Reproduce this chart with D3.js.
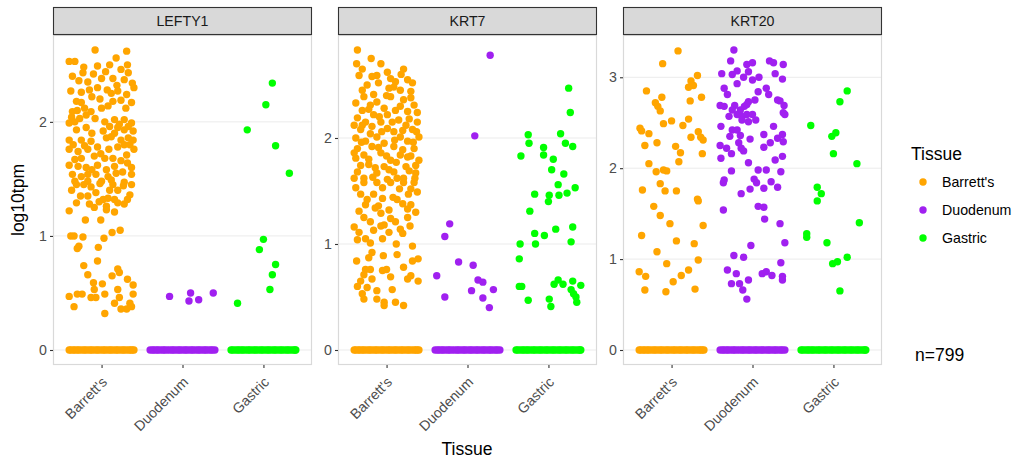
<!DOCTYPE html>
<html>
<head>
<meta charset="utf-8">
<script src="https://cdn.jsdelivr.net/npm/d3@7"></script>
<style>
  html, body { margin: 0; padding: 0; background: #ffffff; }
  svg { display: block; font-family: "Liberation Sans", Arial, sans-serif; }
</style>
</head>
<body>
<svg id="chart" width="1016" height="464"></svg>
<script>
// ---------------- data ----------------
const genes = ["LEFTY1", "KRT7", "KRT20"];
const tissues = ["Barrett's", "Duodenum", "Gastric"];
const tissueColors = ["#FFA500", "#A020F0", "#00FF00"];
const yTicksLEFTY1 = [0, 1, 2];
const yTicksKRT7 = [0, 1, 2];
const yTicksKRT20 = [0, 1, 2, 3];
const sampleCount = "n=799";

// jitter positions of the samples with log10tpm = 0 (solid band at zero)
const zeroBarretts = [-0.40,-0.38,-0.35,-0.33,-0.30,-0.28,-0.25,-0.22,-0.20,-0.17,-0.14,-0.12,-0.09,-0.06,-0.04,-0.01,0.02,0.04,0.07,0.10,0.12,0.15,0.18,0.20,0.23,0.26,0.28,0.31,0.34,0.36,0.38,0.40];
const zeroDuodenum = [-0.40,-0.37,-0.35,-0.32,-0.30,-0.27,-0.24,-0.22,-0.19,-0.16,-0.13,-0.11,-0.08,-0.05,-0.03,0.00,0.03,0.05,0.08,0.11,0.13,0.16,0.19,0.21,0.24,0.27,0.29,0.32,0.35,0.37,0.40];
const zeroGastric = [-0.40,-0.38,-0.35,-0.32,-0.30,-0.27,-0.25,-0.22,-0.19,-0.17,-0.14,-0.11,-0.09,-0.06,-0.03,-0.01,0.02,0.05,0.07,0.10,0.13,0.15,0.18,0.21,0.23,0.26,0.29,0.31,0.34,0.37,0.39,0.40];

// non-zero samples: [jitter offset (category units), log10tpm]
const lefty1Barretts = [
 [-0.08,2.63],[0.31,2.62],[-0.40,2.53],[-0.33,2.53],[0.18,2.56],[-0.22,2.48],[-0.05,2.49],[0.32,2.50],[-0.23,2.43],[0.05,2.44],
 [0.33,2.43],[-0.17,2.35],[0.00,2.38],[0.19,2.32],[0.28,2.37],[0.38,2.34],[-0.38,2.27],[-0.25,2.26],[-0.05,2.30],[0.07,2.28],
 [0.12,2.25],[0.31,2.24],[0.40,2.30],[-0.31,2.18],[-0.25,2.17],[-0.12,2.22],[0.14,2.18],[0.24,2.19],[0.37,2.17],[-0.36,2.09],
 [-0.30,2.10],[-0.21,2.12],[0.00,2.12],[-0.13,2.09],[-0.37,2.04],[-0.27,2.03],[-0.19,2.06],[0.04,2.00],[0.16,2.02],[0.28,2.02],
 [0.37,1.99],[0.10,1.96],[0.20,1.95],[-0.40,1.99],[-0.31,1.93],[-0.19,1.95],[0.02,1.92],[0.28,1.93],[0.39,1.92],[-0.40,1.84],
 [-0.25,1.84],[-0.13,1.83],[0.06,1.86],[0.12,1.87],[0.24,1.84],[0.33,1.86],[0.39,1.84],[-0.05,1.78],[0.20,1.78],[0.28,1.80],
 [-0.40,1.76],[-0.29,1.74],[-0.17,1.76],[0.40,1.76],[0.31,1.71],[-0.25,1.68],[-0.33,1.67],[-0.09,1.70],[0.04,1.68],[0.14,1.68],
 [-0.29,1.61],[-0.19,1.60],[-0.05,1.62],[0.16,1.61],[0.37,1.60],[-0.36,1.54],[-0.25,1.52],[-0.17,1.54],[-0.07,1.54],[0.08,1.52],
 [0.18,1.55],[0.37,1.54],[-0.33,1.48],[-0.17,1.48],[0.00,1.48],[0.12,1.49],[0.28,1.47],[-0.31,1.45],[-0.13,1.43],[-0.02,1.46],
 [0.14,1.45],[0.27,1.44],[0.37,1.45],[-0.17,1.35],[-0.07,1.38],[0.02,1.32],[0.08,1.33],[0.16,1.32],[0.35,1.36],[-0.31,1.29],
 [-0.15,1.28],[-0.09,1.25],[0.06,1.26],[0.20,1.29],[0.28,1.28],[-0.40,1.22],[0.06,1.23],[0.16,1.21],[-0.20,1.14],[-0.01,1.14],
 [-0.38,1.00],[-0.34,1.00],[-0.23,0.99],[0.13,1.03],[0.23,1.05],[0.03,0.98],[-0.28,0.91],[-0.30,0.89],[-0.04,0.90],[-0.05,0.78],
 [-0.22,0.74],[-0.17,0.66],[0.20,0.71],[0.22,0.68],[0.13,0.65],[0.32,0.62],[-0.10,0.59],[0.01,0.58],[0.39,0.57],[-0.09,0.53],
 [0.20,0.53],[-0.30,0.49],[-0.24,0.49],[-0.40,0.47],[-0.13,0.46],[-0.07,0.46],[0.04,0.49],[0.22,0.46],[0.39,0.49],[0.16,0.41],
 [0.35,0.41],[-0.34,0.38],[0.24,0.36],[0.31,0.36],[0.37,0.38],[0.04,0.32],
 [-0.36,2.40],[-0.10,2.42],[0.10,2.50],[0.24,2.46],[-0.28,2.36],[0.14,2.38],[-0.15,2.28],[0.20,2.27],[-0.02,2.20],[0.30,2.12],
 [0.08,2.14],[-0.33,2.00],[-0.08,2.03],[0.22,1.98],[0.33,1.96],[-0.12,1.90],[0.16,1.90],[0.35,1.80],[-0.35,1.80],[-0.21,1.79],
 [0.09,1.76],[-0.01,1.72],[0.24,1.66],[0.32,1.64],[-0.40,1.62],[0.06,1.58],[-0.12,1.58],[0.26,1.56],[-0.22,1.45],[0.20,1.40],
 [-0.37,1.40],[0.32,1.32],[-0.26,1.35],[0.10,1.40],[-0.03,1.30]
];
const lefty1Duodenum = [[-0.16,0.47],[0.10,0.50],[0.08,0.43],[0.20,0.44],[0.38,0.50]];
const lefty1Gastric = [
 [0.11,2.34],[0.03,2.15],[-0.20,1.93],[0.15,1.79],[0.32,1.55],[0.00,0.97],[-0.05,0.88],[0.15,0.75],[0.11,0.66],[0.08,0.53],[-0.32,0.41]
];

const krt7Barretts = [
 [-0.36,2.83],[-0.19,2.75],[-0.37,2.70],[-0.07,2.70],[-0.34,2.59],[0.01,2.62],[0.21,2.65],[-0.18,2.58],[-0.12,2.59],[-0.24,2.50],
 [0.05,2.56],[0.11,2.53],[0.26,2.55],[0.32,2.52],[0.03,2.47],[0.09,2.48],[0.17,2.45],[0.30,2.44],[-0.28,2.39],[-0.16,2.41],
 [0.05,2.39],[0.21,2.36],[-0.38,2.33],[-0.20,2.31],[-0.12,2.34],[0.34,2.31],[-0.30,2.26],[-0.03,2.28],[0.11,2.26],[0.26,2.25],
 [-0.36,2.19],[-0.16,2.22],[0.01,2.22],[-0.26,2.15],[-0.07,2.15],[0.15,2.17],[0.38,2.15],[-0.40,2.12],[-0.18,2.11],[0.24,2.12],
 [-0.32,2.08],[0.01,2.09],[0.09,2.06],[0.32,2.08],[-0.38,2.00],[-0.12,2.01],[0.17,2.01],[0.40,2.01],[-0.26,1.97],[-0.03,1.95],
 [0.26,1.97],[-0.36,1.90],[-0.18,1.92],[0.09,1.92],[0.34,1.90],[-0.28,1.84],[-0.07,1.86],[0.17,1.84],[-0.38,1.81],[0.05,1.79],
 [0.30,1.83],[0.40,1.79],[-0.22,1.75],[-0.03,1.73],[0.24,1.73],[-0.36,1.68],[-0.12,1.67],[0.09,1.68],[0.36,1.67],[-0.28,1.62],
 [0.01,1.61],[0.21,1.62],[-0.28,1.58],[-0.12,1.58],[0.05,1.58],[0.21,1.58],[0.34,1.58],[-0.32,1.47],[-0.16,1.47],[-0.05,1.43],
 [0.27,1.47],[0.38,1.49],[-0.26,1.37],[-0.10,1.36],[0.13,1.42],[0.30,1.37],[-0.34,1.31],[-0.07,1.29],[0.03,1.32],[0.26,1.33],
 [-0.20,1.21],[0.11,1.21],[0.26,1.25],[-0.40,1.16],[-0.07,1.17],[0.29,1.17],[-0.34,1.11],[-0.16,1.13],[0.03,1.11],[0.17,1.14],
 [-0.36,1.04],[-0.26,1.05],[-0.20,1.01],[-0.05,1.05],[0.12,1.00],[0.32,0.98],[-0.18,0.92],[-0.04,0.89],[0.13,0.90],[-0.37,0.84],
 [-0.22,0.87],[0.32,0.84],[0.39,0.86],[-0.26,0.76],[-0.20,0.76],[-0.05,0.75],[0.00,0.76],[0.21,0.78],[-0.28,0.71],[0.05,0.69],
 [0.30,0.70],[-0.32,0.65],[-0.18,0.67],[0.26,0.67],[0.39,0.65],[-0.36,0.60],[-0.24,0.59],[0.07,0.57],[-0.30,0.53],[-0.12,0.56],
 [-0.28,0.48],[-0.12,0.48],[-0.03,0.45],[0.11,0.45],[0.21,0.42],[-0.03,0.42],
 [-0.30,2.65],[-0.10,2.52],[0.18,2.60],[-0.30,2.45],[0.00,2.40],[0.30,2.38],[-0.22,2.27],[0.17,2.30],[0.38,2.24],[-0.09,2.20],
 [0.07,2.15],[0.28,2.18],[-0.30,2.12],[-0.06,2.06],[0.20,2.07],[-0.20,2.04],[0.37,2.06],[-0.31,1.96],[0.10,1.98],[0.33,1.96],
 [-0.10,1.91],[0.20,1.89],[-0.40,1.86],[0.00,1.83],[0.26,1.82],[-0.22,1.80],[0.12,1.77],[0.36,1.74],[-0.32,1.74],[-0.14,1.72],
 [0.03,1.70],[0.28,1.69],[-0.40,1.62],[-0.17,1.63],[0.13,1.62],[0.35,1.62],[-0.05,1.53],[0.16,1.52],[-0.38,1.53],[0.30,1.52],
 [-0.24,1.42],[0.08,1.44],[0.20,1.38],[-0.14,1.34],[0.36,1.30],[-0.28,1.25],[0.05,1.24],[-0.03,1.18],[0.20,1.10]
];
const krt7Duodenum = [
 [0.28,2.78],[0.09,2.02],[-0.22,1.19],[-0.28,1.07],[-0.11,0.83],[0.07,0.80],[-0.38,0.70],[0.13,0.66],[0.19,0.64],[0.05,0.56],
 [0.32,0.57],[-0.28,0.50],[0.19,0.49],[0.27,0.40]
];
const krt7Gastric = [
 [0.25,2.47],[0.27,2.24],[-0.25,2.03],[-0.24,1.95],[0.15,2.04],[0.21,1.95],[0.30,1.92],[-0.06,1.91],[-0.34,1.83],[-0.06,1.84],
 [0.06,1.80],[0.04,1.70],[0.19,1.66],[0.12,1.56],[0.33,1.53],[0.23,1.48],[-0.17,1.47],[0.01,1.46],[0.13,1.46],[0.00,1.40],
 [-0.23,1.31],[-0.17,1.10],[-0.05,1.08],[0.09,1.14],[0.30,1.16],[-0.16,1.00],[-0.35,1.00],[0.28,1.02],[-0.36,0.86],[-0.36,0.60],
 [-0.33,0.60],[0.07,0.62],[0.12,0.66],[0.18,0.62],[0.30,0.65],[0.40,0.61],[0.28,0.57],[0.31,0.53],[0.34,0.50],[-0.25,0.47],
 [0.01,0.48],[0.35,0.45],[0.03,0.41]
];

const krt20Barretts = [
 [0.08,3.29],[-0.11,3.15],[0.32,3.02],[0.24,2.96],[0.27,2.91],[0.21,2.89],[-0.31,2.85],[-0.12,2.78],[0.37,2.78],[0.23,2.74],
 [-0.20,2.72],[-0.17,2.68],[-0.14,2.63],[0.00,2.52],[0.21,2.54],[-0.10,2.49],[0.14,2.47],[-0.39,2.44],[-0.37,2.41],[-0.28,2.38],
 [0.33,2.40],[0.24,2.34],[0.36,2.34],[0.39,2.31],[-0.33,2.25],[-0.18,2.28],[0.05,2.24],[0.11,2.17],[0.38,2.16],[0.09,2.07],
 [-0.28,2.05],[-0.19,1.96],[-0.10,1.98],[-0.06,1.97],[-0.14,1.83],[-0.36,1.76],[-0.08,1.75],[0.06,1.75],[0.32,1.66],[-0.22,1.58],
 [0.33,1.64],[-0.14,1.48],[-0.02,1.39],[0.39,1.37],[-0.37,1.26],[0.06,1.20],[0.28,1.17],[-0.18,1.08],[-0.06,0.95],[0.33,0.99],
 [0.21,0.88],[-0.40,0.86],[-0.32,0.81],[0.12,0.82],[0.02,0.75],[0.29,0.67],[-0.33,0.66],[-0.07,0.64]
];
const krt20Duodenum = [
 [-0.23,3.30],[-0.27,3.18],[0.00,3.16],[-0.07,3.14],[0.21,3.18],[0.26,3.16],[0.38,3.14],[-0.19,3.07],[-0.05,3.06],[-0.38,3.04],
 [-0.25,3.03],[-0.11,3.00],[0.08,3.00],[0.00,2.97],[0.28,3.04],[0.37,2.98],[-0.19,2.93],[-0.35,2.88],[0.17,2.88],[0.07,2.84],
 [-0.31,2.81],[0.20,2.81],[0.03,2.75],[-0.05,2.73],[0.31,2.75],[0.34,2.74],[-0.40,2.69],[-0.35,2.68],[-0.22,2.69],[-0.07,2.70],
 [0.39,2.69],[-0.25,2.64],[-0.15,2.64],[-0.10,2.68],[0.38,2.61],[0.40,2.59],[-0.29,2.57],[-0.19,2.59],[-0.13,2.57],[-0.07,2.59],
 [0.00,2.59],[-0.13,2.53],[-0.05,2.51],[0.04,2.53],[-0.39,2.46],[0.26,2.46],[-0.25,2.42],[-0.19,2.42],[-0.28,2.35],[-0.15,2.36],
 [0.14,2.37],[0.37,2.37],[-0.03,2.32],[0.31,2.33],[0.38,2.29],[0.22,2.28],[-0.40,2.25],[-0.32,2.22],[-0.17,2.28],[-0.14,2.22],
 [-0.11,2.19],[0.14,2.23],[-0.26,2.16],[0.37,2.13],[0.28,2.09],[-0.39,2.11],[-0.05,2.06],[0.07,1.98],[0.17,1.98],[-0.26,1.97],
 [0.35,1.96],[-0.35,1.87],[-0.36,1.84],[0.02,1.88],[0.05,1.84],[0.23,1.85],[0.14,1.78],[0.31,1.79],[-0.03,1.77],[-0.14,1.72],
 [-0.36,1.54],[0.07,1.58],[0.14,1.57],[0.15,1.44],[0.34,1.39],[-0.02,1.15],[0.40,1.18],[-0.23,1.04],[-0.11,1.02],[0.35,0.96],
 [-0.31,0.88],[-0.20,0.84],[0.12,0.84],[0.17,0.86],[0.24,0.82],[0.37,0.81],[0.37,0.77],[-0.26,0.73],[-0.16,0.73],[-0.05,0.77],
 [-0.12,0.66],[-0.07,0.56]
];
const krt20Gastric = [
 [0.17,2.85],[0.08,2.73],[-0.28,2.47],[0.03,2.39],[-0.02,2.35],[0.00,2.16],[0.29,2.05],[-0.20,1.79],[-0.15,1.72],[-0.20,1.64],
 [0.32,1.40],[-0.33,1.28],[-0.33,1.24],[-0.08,1.18],[-0.01,0.95],[0.05,0.97],[0.17,1.02],[0.08,0.65]
];

const zeroJitter = [zeroBarretts, zeroDuodenum, zeroGastric];
const panelData = [
  [lefty1Barretts, lefty1Duodenum, lefty1Gastric],
  [krt7Barretts, krt7Duodenum, krt7Gastric],
  [krt20Barretts, krt20Duodenum, krt20Gastric]
];
const panelTicks = [yTicksLEFTY1, yTicksKRT7, yTicksKRT20];

// ---------------- layout ----------------
const svg = d3.select("#chart");
const panelLefts = [53, 338, 623];
const panelW = 259;
const stripTop = 7, stripBottom = 35, plotBottom = 365;
const pointR = 3.7;
const font = "'Liberation Sans', Arial, sans-serif";
const smallSize = 14.2, bigSize = 17.5;

genes.forEach((gene, gi) => {
  const left = panelLefts[gi];
  const x = d3.scalePoint().domain(tissues).range([left, left + panelW]).padding(0.6);
  const step = x.step();

  // y domain: data range expanded by 5% like ggplot
  let maxV = 0;
  panelData[gi].forEach(arr => arr.forEach(d => { if (d[1] > maxV) maxV = d[1]; }));
  const span = maxV - 0;
  const y = d3.scaleLinear().domain([0 - 0.05 * span, maxV + 0.05 * span]).range([plotBottom, stripBottom]);

  const g = svg.append("g");

  g.append("rect").attr("x", left).attr("y", stripBottom).attr("width", panelW)
    .attr("height", plotBottom - stripBottom).attr("fill", "#ffffff");

  g.selectAll(".grid").data(panelTicks[gi]).join("line")
    .attr("x1", left).attr("x2", left + panelW)
    .attr("y1", d => y(d)).attr("y2", d => y(d))
    .attr("stroke", "#EBEBEB").attr("stroke-width", 1);

  tissues.forEach((t, ti) => {
    const cx = x(t);
    g.selectAll(null).data(zeroJitter[ti]).join("circle")
      .attr("cx", j => cx + j * step).attr("cy", y(0)).attr("r", pointR)
      .attr("fill", tissueColors[ti]);
  });
  tissues.forEach((t, ti) => {
    const cx = x(t);
    g.selectAll(null).data(panelData[gi][ti]).join("circle")
      .attr("cx", d => cx + d[0] * step).attr("cy", d => y(d[1])).attr("r", pointR)
      .attr("fill", tissueColors[ti]);
  });

  g.append("rect").attr("x", left + 0.5).attr("y", stripBottom + 0.5).attr("width", panelW - 1)
    .attr("height", plotBottom - stripBottom - 1).attr("fill", "none")
    .attr("stroke", "#D9D9D9").attr("stroke-width", 1.2);

  g.append("rect").attr("x", left + 0.5).attr("y", stripTop + 0.5).attr("width", panelW - 1)
    .attr("height", stripBottom - stripTop - 1).attr("fill", "#D9D9D9")
    .attr("stroke", "#333333").attr("stroke-width", 1.1);
  g.append("text").attr("x", left + panelW / 2).attr("y", (stripTop + stripBottom) / 2)
    .attr("dy", "0.36em").attr("text-anchor", "middle").attr("font-size", smallSize)
    .attr("fill", "#1A1A1A").attr("font-family", font).text(gene);

  const yAxis = d3.axisLeft(y).tickValues(panelTicks[gi]).tickSize(3).tickPadding(3).tickFormat(d3.format("d"));
  const ya = g.append("g").attr("transform", `translate(${left},0)`).call(yAxis);
  ya.select(".domain").remove();
  ya.selectAll(".tick line").attr("stroke", "#333333").attr("stroke-width", 1.1);
  ya.selectAll(".tick text").attr("fill", "#4D4D4D").attr("font-size", smallSize).attr("font-family", font);

  const xAxis = d3.axisBottom(x).tickSize(3).tickPadding(2);
  const xa = g.append("g").attr("transform", `translate(0,${plotBottom})`).call(xAxis);
  xa.select(".domain").remove();
  xa.selectAll(".tick line").attr("stroke", "#333333").attr("stroke-width", 1.1);
  xa.selectAll(".tick text")
    .attr("fill", "#4D4D4D").attr("font-size", smallSize).attr("font-family", font)
    .attr("text-anchor", "end").attr("dy", null).attr("y", 0).attr("x", 0)
    .attr("transform", "translate(6,18) rotate(-45)");
});

// axis titles
svg.append("text").attr("x", 467).attr("y", 455).attr("text-anchor", "middle")
  .attr("font-size", bigSize).attr("fill", "#000").attr("font-family", font).text("Tissue");
svg.append("text").attr("transform", "translate(24,200) rotate(-90)").attr("text-anchor", "middle")
  .attr("font-size", bigSize).attr("fill", "#000").attr("font-family", font).text("log10tpm");

// legend
const legend = svg.append("g");
legend.append("text").attr("x", 911).attr("y", 160).attr("font-size", bigSize)
  .attr("fill", "#000").attr("font-family", font).text("Tissue");
tissues.forEach((t, i) => {
  const ly = 182 + i * 28;
  legend.append("circle").attr("cx", 923).attr("cy", ly).attr("r", 3.7).attr("fill", tissueColors[i]);
  legend.append("text").attr("x", 942).attr("y", ly).attr("dy", "0.35em").attr("font-size", smallSize)
    .attr("fill", "#000").attr("font-family", font).text(t);
});

svg.append("text").attr("x", 915).attr("y", 361).attr("font-size", bigSize)
  .attr("fill", "#000").attr("font-family", font).text(sampleCount);
</script>
</body>
</html>
